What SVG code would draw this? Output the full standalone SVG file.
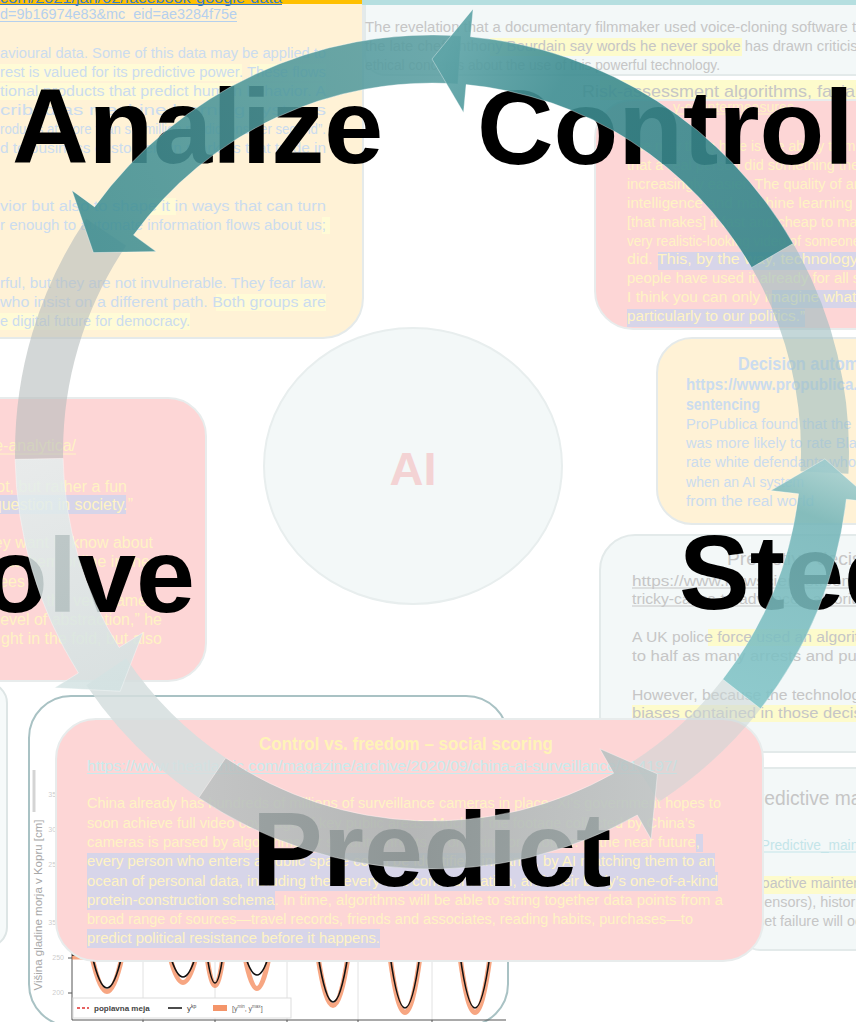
<svg xmlns="http://www.w3.org/2000/svg" width="856" height="1022" viewBox="0 0 856 1022">
<defs>
<style>
 .t{font-family:"Liberation Sans",Arial,sans-serif;font-size:15.5px}
 .tb{font-family:"Liberation Sans",Arial,sans-serif;font-size:17px;font-weight:bold}
 .ar{font-family:"Liberation Sans",Arial,sans-serif;font-size:16px}
 .big{font-family:"Liberation Sans",Arial,Helvetica,sans-serif;font-size:106px;font-weight:bold;fill:#000}
 .by{fill:#fff2d6;stroke:#e5eaea;stroke-width:2}
 .bg{fill:#f3f8f8;stroke:#e3eaea;stroke-width:2}
 .br{fill:#fdd6d6;stroke:#e8ecec;stroke-width:2}
 .blue{fill:#cbdcef}
 .gry{fill:#c6c6c6}
 .pale{fill:#fff3c4}
 .hy{fill:#fffbd6}
 .hy2{fill:#fdfbcc}
 .hp{fill:#d7d5e9}
 .ulp{stroke:#fff3c4;stroke-width:1}
 .ulg{stroke:#c6c6c6;stroke-width:1}
 .arrow{stroke:#ffffff;stroke-opacity:.35;stroke-width:1}
 .seg{stroke:none}
 .chart{font-family:"Liberation Sans",Arial,sans-serif;fill:#a8a8a8}
</style>
<linearGradient id="gControl" gradientUnits="userSpaceOnUse" x1="772" y1="255" x2="440" y2="60">
 <stop offset="0" stop-color="#35858a"/><stop offset="0.7" stop-color="#3e8d91"/><stop offset="1" stop-color="#5ea4a7"/>
</linearGradient>
<linearGradient id="gAnalize" gradientUnits="userSpaceOnUse" x1="460" y1="60" x2="100" y2="245">
 <stop offset="0" stop-color="#5a9ea1"/><stop offset="1" stop-color="#3f8e92"/>
</linearGradient>
<linearGradient id="gSolve" gradientUnits="userSpaceOnUse" x1="40" y1="460" x2="125" y2="680">
 <stop offset="0" stop-color="#e4eeee"/><stop offset="1" stop-color="#d3e2e2"/>
</linearGradient>
<linearGradient id="gPredict" gradientUnits="userSpaceOnUse" x1="205" y1="780" x2="655" y2="780">
 <stop offset="0" stop-color="#b9c1c1"/><stop offset="0.45" stop-color="#a8b1b1"/><stop offset="1" stop-color="#bac5c5"/>
</linearGradient>
<linearGradient id="gSteer" gradientUnits="userSpaceOnUse" x1="742" y1="695" x2="825" y2="470">
 <stop offset="0" stop-color="#80c3c6"/><stop offset="0.8" stop-color="#74b5b8"/><stop offset="1" stop-color="#9ccbcd"/>
</linearGradient>
</defs>

<rect width="856" height="1022" fill="#ffffff"/>

<!-- background note cards -->
<g id="card-surveillance">
 <rect class="by" x="-40" y="-40" width="403" height="378" rx="40"/>
 <rect x="0" y="0" width="362" height="4" fill="#ffc000"/>
 <text class="t" x="0" y="3" textLength="282" lengthAdjust="spacingAndGlyphs" fill="#3b7dc4">com/2021/jan/02/facebook-google-data</text>
 <line x1="0" y1="4.5" x2="282" y2="4.5" stroke="#3b7dc4" stroke-width="1"/>
 <text class="t" x="0" y="19" textLength="237" lengthAdjust="spacingAndGlyphs" fill="#b5d0ee">d=9b16974e83&amp;mc_eid=ae3284f75e</text>
 <line x1="0" y1="21.5" x2="237" y2="21.5" stroke="#b5d0ee" stroke-width="1"/>
 <rect class="hy" x="0" y="64" width="242" height="17"/>
 <rect class="hy" x="250" y="64" width="76" height="17"/>
 <rect class="hy" x="0" y="83" width="326" height="17"/>
 <rect class="hy" x="148" y="198" width="28" height="17"/>
 <rect class="hy" x="322" y="217" width="8" height="17"/>
 <rect class="hy" x="216" y="294" width="110" height="17"/>
 <rect class="hy" x="0" y="313" width="190" height="17"/>
 <g class="blue">
  <text class="t" x="0" y="58" textLength="326" lengthAdjust="spacingAndGlyphs">avioural data. Some of this data may be applied to</text>
  <text class="t" x="0" y="77" textLength="326" lengthAdjust="spacingAndGlyphs">rest is valued for its predictive power. These flows</text>
  <text class="t" x="0" y="96" textLength="326" lengthAdjust="spacingAndGlyphs">tional products that predict human behavior. A</text>
  <text class="t" x="0" y="115" textLength="326" lengthAdjust="spacingAndGlyphs">cribed as machine learning systems</text>
  <text class="t" x="0" y="134" textLength="326" lengthAdjust="spacingAndGlyphs">roducts at more than six million predictions per second”.</text>
  <text class="t" x="0" y="153" textLength="326" lengthAdjust="spacingAndGlyphs">d to business customers in markets that trade in</text>
  <text class="t" x="0" y="211" textLength="326" lengthAdjust="spacingAndGlyphs">vior but also to shape it in ways that can turn</text>
  <text class="t" x="0" y="230" textLength="326" lengthAdjust="spacingAndGlyphs">r enough to automate information flows about us;</text>
  <text class="t" x="0" y="288" textLength="326" lengthAdjust="spacingAndGlyphs">rful, but they are not invulnerable. They fear law.</text>
  <text class="t" x="0" y="307" textLength="326" lengthAdjust="spacingAndGlyphs">who insist on a different path. Both groups are</text>
  <text class="t" x="0" y="326" textLength="190" lengthAdjust="spacingAndGlyphs">e digital future for democracy.</text>
 </g>
</g>

<g id="card-voice-cloning">
 <rect class="bg" x="365" y="-40" width="540" height="115" rx="20"/>
 <rect x="362" y="0" width="494" height="5" fill="#b5dfe0"/>
 <rect class="hy2" x="490" y="38" width="252" height="18"/>
 <g class="gry">
  <text class="t" x="365" y="32" textLength="540" lengthAdjust="spacingAndGlyphs">The revelation that a documentary filmmaker used voice-cloning software to make</text>
  <text class="t" x="365" y="51" textLength="505" lengthAdjust="spacingAndGlyphs">the late chef Anthony Bourdain say words he never spoke has drawn criticism</text>
  <text class="t" x="365" y="70" textLength="355" lengthAdjust="spacingAndGlyphs">ethical concerns about the use of this powerful technology.</text>
 </g>
 <rect class="hy2" x="600" y="80" width="256" height="20"/>
 <text class="t gry" x="582" y="97" textLength="370" lengthAdjust="spacingAndGlyphs" style="font-size:17px">Risk-assessment algorithms, facial recognition</text>
</g>

<g id="card-deepfakes">
 <rect class="br" x="595" y="100" width="300" height="229" rx="38"/>
 <rect class="hp" x="658" y="252" width="198" height="18"/>
 <rect class="hp" x="772" y="290" width="84" height="18"/>
 <rect class="hp" x="627" y="309" width="178" height="18"/>
 <g class="pale">
  <text class="t" x="673" y="112" textLength="121" lengthAdjust="spacingAndGlyphs">y-countermeasures</text>
  <line class="ulp" x1="673" y1="114" x2="794" y2="114"/>
  <text class="t" x="627" y="151" textLength="262" lengthAdjust="spacingAndGlyphs">The new thing here is the ability to make it</text>
  <text class="t" x="627" y="170" textLength="280" lengthAdjust="spacingAndGlyphs">that a real person did something they never</text>
  <text class="t" x="627" y="189" textLength="268" lengthAdjust="spacingAndGlyphs">increasingly easier. The quality of artificial</text>
  <text class="t" x="627" y="208" textLength="262" lengthAdjust="spacingAndGlyphs">intelligence and machine learning tools</text>
  <text class="t" x="627" y="227" textLength="258" lengthAdjust="spacingAndGlyphs">[that makes] it fast and cheap to make a</text>
  <text class="t" x="627" y="246" textLength="262" lengthAdjust="spacingAndGlyphs">very realistic-looking video of someone who</text>
  <text class="t" x="627" y="264" textLength="262" lengthAdjust="spacingAndGlyphs">did. This, by the way, technology that</text>
  <text class="t" x="627" y="283" textLength="258" lengthAdjust="spacingAndGlyphs">people have used it already for all sorts</text>
  <text class="t" x="627" y="302" textLength="258" lengthAdjust="spacingAndGlyphs">I think you can only imagine what this</text>
  <text class="t" x="627" y="321" textLength="178" lengthAdjust="spacingAndGlyphs">particularly to our politics.”</text>
 </g>
</g>

<g id="card-decision">
 <rect class="by" x="657" y="338" width="260" height="186" rx="35"/>
 <g class="blue">
  <text class="tb" x="738" y="370" textLength="160" lengthAdjust="spacingAndGlyphs" style="font-size:19px">Decision automation</text>
  <text class="tb" x="686" y="390" textLength="245" lengthAdjust="spacingAndGlyphs">https://www.propublica.org/article</text>
  <text class="tb" x="686" y="410" textLength="74" lengthAdjust="spacingAndGlyphs">sentencing</text>
  <text class="t" x="686" y="429" textLength="230" lengthAdjust="spacingAndGlyphs">ProPublica found that the algorithm</text>
  <text class="t" x="686" y="448" textLength="262" lengthAdjust="spacingAndGlyphs">was more likely to rate Black defendants</text>
  <text class="t" x="686" y="467" textLength="170" lengthAdjust="spacingAndGlyphs">rate white defendants who</text>
  <text class="t" x="686" y="487" textLength="118" lengthAdjust="spacingAndGlyphs">when an AI system</text>
  <text class="t" x="686" y="506" textLength="128" lengthAdjust="spacingAndGlyphs">from the real world</text>
 </g>
</g>

<g id="card-policing">
 <rect class="bg" x="600" y="535" width="300" height="217" rx="35"/>
 <rect class="hy2" x="708" y="629" width="148" height="17"/>
 <rect class="hy2" x="632" y="705" width="224" height="17"/>
 <g class="gry">
  <text class="t" x="727" y="565" textLength="170" lengthAdjust="spacingAndGlyphs" style="font-size:19px">Predictive decisions</text>
  <text class="t" x="632" y="586" textLength="330" lengthAdjust="spacingAndGlyphs">https://www.newscientist.com/article/police-</text>
  <line class="ulg" x1="632" y1="588" x2="856" y2="588"/>
  <text class="t" x="632" y="604" textLength="250" lengthAdjust="spacingAndGlyphs">tricky-cases-to-advanced-algorithm/</text>
  <line class="ulg" x1="632" y1="606" x2="856" y2="606"/>
  <text class="t" x="632" y="642" textLength="300" lengthAdjust="spacingAndGlyphs">A UK police force used an algorithm to help</text>
  <text class="t" x="632" y="661" textLength="250" lengthAdjust="spacingAndGlyphs">to half as many arrests and public</text>
  <text class="t" x="632" y="700" textLength="236" lengthAdjust="spacingAndGlyphs">However, because the technology</text>
  <text class="t" x="632" y="718" textLength="260" lengthAdjust="spacingAndGlyphs">biases contained in those decisions</text>
 </g>
</g>

<g id="card-maintenance">
 <rect class="bg" x="740" y="768" width="160" height="182" rx="20"/>
 <rect class="hy2" x="757" y="876" width="99" height="18"/>
 <g class="gry">
  <text class="t" x="745" y="805" textLength="200" lengthAdjust="spacingAndGlyphs" style="font-size:20px">Predictive maintenance</text>
  <text class="t" x="757" y="888" textLength="135" lengthAdjust="spacingAndGlyphs">roactive maintenance</text>
  <text class="t" x="757" y="907" textLength="120" lengthAdjust="spacingAndGlyphs">sensors), historical</text>
  <text class="t" x="757" y="926" textLength="125" lengthAdjust="spacingAndGlyphs">set failure will occur</text>
 </g>
 <text class="t" x="757" y="850" textLength="150" lengthAdjust="spacingAndGlyphs" fill="#c4e5e9">/Predictive_maintenance</text>
 <line x1="757" y1="852" x2="856" y2="852" stroke="#c4e5e9" stroke-width="1"/>
</g>

<g id="card-edge">
 <rect x="-50" y="683" width="57" height="264" rx="20" fill="#f6fafa" stroke="#dde5e5" stroke-width="2"/>
</g>

<g id="card-sea-level-chart">
 <rect x="29" y="696" width="479" height="330" rx="42" fill="#ffffff" stroke="#a9c2c4" stroke-width="2"/>
 <line x1="34" y1="770" x2="34" y2="812" stroke="#d4d4d4" stroke-width="3"/>
 <text class="chart" transform="translate(42 905) rotate(-90)" text-anchor="middle" font-size="11.5">Višina gladine morja v Kopru [cm]</text>
 <g class="chart" font-size="7" text-anchor="end" fill-opacity=".6">
  <text x="60" y="797">350</text><text x="60" y="832">300</text><text x="60" y="867">250</text><text x="60" y="925">350</text>
  <text x="64" y="960">250</text><text x="64" y="995">200</text>
 </g>
 <g stroke="#e2e2e2" stroke-width="1">
  <line x1="143" y1="950" x2="143" y2="1020"/><line x1="215" y1="950" x2="215" y2="1020"/>
  <line x1="287" y1="950" x2="287" y2="1020"/><line x1="358" y1="950" x2="358" y2="1020"/>
  <line x1="432" y1="950" x2="432" y2="1020"/>
 </g>
 <g stroke="#555" stroke-width="1">
  <line x1="72" y1="950" x2="72" y2="1020"/><line x1="72" y1="1020" x2="506" y2="1020"/>
  <line x1="68" y1="958" x2="72" y2="958"/><line x1="68" y1="993" x2="72" y2="993"/>
  <line x1="143" y1="1020" x2="143" y2="1024"/><line x1="215" y1="1020" x2="215" y2="1024"/>
  <line x1="287" y1="1020" x2="287" y2="1024"/><line x1="358" y1="1020" x2="358" y2="1024"/>
  <line x1="432" y1="1020" x2="432" y2="1024"/>
 </g>
 <path d="M72 957 L92 957 Q107 1026 122 957 L170 957 Q183 1008 196 957 L207 957 Q215 1014 223 957 L245 957 Q257 1020 269 957 L318 957 Q333 1054 348 957 L390 957 Q405 1068 420 957 L460 957 Q475 1068 490 957 L505 957" fill="none" stroke="#f26a2e" stroke-opacity=".6" stroke-width="5"/>
 <path d="M72 955 L92 955 Q107 1021 122 955 L170 955 Q183 999 196 955 L207 955 Q215 1011 223 955 L245 955 Q257 995 269 955 L318 955 Q333 1049 348 955 L390 955 Q405 1061 420 955 L460 955 Q475 1061 490 955 L505 955" fill="none" stroke="#111" stroke-width="1.6"/>
 <rect x="73" y="998" width="218" height="20" fill="#ffffff" stroke="#dddddd" stroke-width="1"/>
 <line x1="77" y1="1008" x2="89" y2="1008" stroke="#e03030" stroke-width="1.5" stroke-dasharray="3 2"/>
 <text x="94" y="1011" font-family="Liberation Sans,Arial,sans-serif" font-size="8" font-weight="bold" fill="#444">poplavna meja</text>
 <line x1="168" y1="1008" x2="182" y2="1008" stroke="#111" stroke-width="1.5"/>
 <text x="187" y="1011" font-family="Liberation Sans,Arial,sans-serif" font-size="8" fill="#444">y<tspan dy="-3" font-size="5">kp</tspan></text>
 <rect x="213" y="1005" width="14" height="6" fill="#f4956a"/>
 <text x="232" y="1011" font-family="Liberation Sans,Arial,sans-serif" font-size="7" fill="#666">[y<tspan dy="-3" font-size="4.5">min</tspan><tspan dy="3">, y</tspan><tspan dy="-3" font-size="4.5">max</tspan><tspan dy="3">]</tspan></text>
</g>

<g id="card-cambridge">
 <rect class="br" x="-40" y="398" width="246" height="283" rx="38"/>
 <rect class="hp" x="0" y="495" width="126" height="19"/>
 <g class="pale" text-anchor="end">
  <text class="ar" x="76" y="451">cambridge-analytica/</text>
  <line class="ulp" x1="0" y1="454" x2="76" y2="454"/>
  <text class="ar" x="127" y="492">not, but rather a fun</text>
  <text class="ar" x="133" y="510">fundamental question in society.”</text>
  <text class="ar" x="153" y="548">The stuff that they want to know about</text>
  <text class="ar" x="150" y="567">about them online in the</text>
  <text class="ar" x="25" y="587">employees</text>
  <text class="ar" x="147" y="606">the very same</text>
  <text class="ar" x="162" y="625">a different level of abstraction,” he</text>
  <text class="ar" x="162" y="644">brought in the fold, but also</text>
 </g>
</g>

<g id="card-social-scoring">
 <rect class="br" x="56" y="719" width="707" height="242" rx="40"/>
 <rect class="hp" x="696" y="834" width="7" height="18"/>
 <rect class="hp" x="87" y="853" width="628" height="19"/>
 <rect class="hp" x="87" y="872" width="631" height="19"/>
 <rect class="hp" x="87" y="891" width="188" height="19"/>
 <rect class="hp" x="87" y="929" width="293" height="19"/>
 <text class="tb" x="259" y="750" textLength="294" lengthAdjust="spacingAndGlyphs" fill="#fff3b8" style="font-size:18px">Control vs. freedom – social scoring</text>
 <text class="t" x="87" y="771" textLength="590" lengthAdjust="spacingAndGlyphs" fill="#c8ecee">https://www.theatlantic.com/magazine/archive/2020/09/china-ai-surveillance/614197/</text>
 <line x1="87" y1="773.5" x2="677" y2="773.5" stroke="#c8ecee" stroke-width="1"/>
 <g class="pale">
  <text class="t" x="87" y="808" textLength="634" lengthAdjust="spacingAndGlyphs">China already has hundreds of millions of surveillance cameras in place. Xi’s government hopes to</text>
  <text class="t" x="87" y="828" textLength="608" lengthAdjust="spacingAndGlyphs">soon achieve full video coverage of key public areas. Much of the footage collected by China’s</text>
  <text class="t" x="87" y="847" textLength="613" lengthAdjust="spacingAndGlyphs">cameras is parsed by algorithms for security threats of one kind or another. In the near future,</text>
  <text class="t" x="87" y="866" textLength="628" lengthAdjust="spacingAndGlyphs">every person who enters a public space could be identified, instantly, by AI matching them to an</text>
  <text class="t" x="87" y="886" textLength="631" lengthAdjust="spacingAndGlyphs">ocean of personal data, including their every text communication, and their body’s one-of-a-kind</text>
  <text class="t" x="87" y="905" textLength="636" lengthAdjust="spacingAndGlyphs">protein-construction schema. In time, algorithms will be able to string together data points from a</text>
  <text class="t" x="87" y="924" textLength="606" lengthAdjust="spacingAndGlyphs">broad range of sources—travel records, friends and associates, reading habits, purchases—to</text>
  <text class="t" x="87" y="943" textLength="293" lengthAdjust="spacingAndGlyphs">predict political resistance before it happens.</text>
 </g>
</g>

<!-- cycle nodes -->
<g id="node-ai">
 <ellipse cx="413" cy="466" rx="149" ry="138" fill="#f3f8f8" stroke="#e8eeee" stroke-width="2"/>
 <text x="413" y="485" text-anchor="middle" font-family="Liberation Sans,Arial,sans-serif" font-size="47" font-weight="bold" fill="#f3d3d4">AI</text>
</g>
<g id="node-analize"><text class="big" x="12" y="163">Analize</text></g>
<g id="node-control"><text class="big" x="477" y="164">Control</text></g>
<g id="node-steer"><text class="big" x="679" y="609">Steer</text></g>
<g id="node-predict"><text class="big" x="252" y="886">Predict</text></g>
<g id="node-solve"><text class="big" x="195" y="612" text-anchor="end">Solve</text></g>

<!-- cycle arrows -->
<g id="connectors">
 <path class="seg" d="M848.4 473.8 A417 417 0 0 0 793.1 243.5 L751.6 267.5 A369 369 0 0 1 800.5 471.3 Z" fill="#9dbdbf" fill-opacity=".6"/>
 <path class="seg" d="M659.1 801.7 A417 417 0 0 0 760.6 708.7 L722.8 679.2 A369 369 0 0 1 633.0 761.5 Z" fill="#cbd6d6" fill-opacity=".55"/>
 <path class="seg" d="M86.3 218.8 A417 417 0 0 0 15.1 459.3 L63.1 458.4 A369 369 0 0 1 126.1 245.7 Z" fill="#b5bcbc" fill-opacity=".6"/>
 <path class="seg" d="M86.3 685.2 A417 417 0 0 0 198.8 797.7 L225.7 757.9 A369 369 0 0 1 126.1 658.3 Z" fill="#d5dede" fill-opacity=".85"/>
 <path id="arrow-steer" class="arrow" d="M760.6 708.7 A417 417 0 0 0 846.3 499.2 L874.2 502.4 L824.9 458.9 L770.8 490.6 L798.6 493.8 A369 369 0 0 1 722.8 679.2 Z" fill="url(#gSteer)" fill-opacity=".88"/>
 <path id="arrow-predict" class="arrow" d="M198.8 797.7 A417 417 0 0 0 637.3 815.0 L651.1 839.3 L657.4 773.9 L599.9 748.8 L613.7 773.2 A369 369 0 0 1 225.7 757.9 Z" fill="url(#gPredict)" fill-opacity=".85"/>
 <path id="arrow-solve" class="arrow" d="M15.1 459.3 A417 417 0 0 0 78.4 673.0 L54.6 687.8 L120.2 691.3 L142.8 632.7 L119.1 647.5 A369 369 0 0 1 63.1 458.4 Z" fill="url(#gSolve)" fill-opacity=".85"/>
 <path id="arrow-analize" class="arrow" d="M461.1 36.0 A417 417 0 0 0 94.6 206.9 L72.0 190.4 L93.4 252.6 L156.1 251.6 L133.5 235.1 A369 369 0 0 1 457.8 83.9 Z" fill="url(#gAnalize)" fill-opacity=".88"/>
 <path id="arrow-control" class="arrow" d="M793.1 243.5 A417 417 0 0 0 470.5 36.8 L473.1 8.9 L432 59 L463.5 112.5 L466.1 84.6 A369 369 0 0 1 751.6 267.5 Z" fill="url(#gControl)" fill-opacity=".9"/>
</g>
</svg>
